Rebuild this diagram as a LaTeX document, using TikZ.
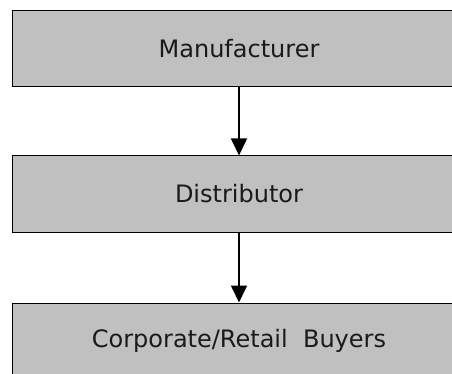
\documentclass[tikz,border=0pt]{standalone}
\usepackage{fontspec}
\setmainfont{DejaVu Sans}
\usepackage{xcolor}
\usetikzlibrary{arrows.meta}
\definecolor{chain-grey}{RGB}{192,192,192}
\definecolor{chain-text}{RGB}{26,26,26}

\begin{document}
\begin{tikzpicture}[x=1pt, y=-1pt,
  stage/.style={draw=black, line width=1pt, fill=chain-grey, text=chain-text,
    minimum width=454pt, minimum height=76pt, inner sep=0pt, font=\fontsize{24}{28}\selectfont},
  flow/.style={line width=1.6pt, -{Triangle[width=16pt, length=17pt]}}]
  \clip (0,0) rectangle (452,374);
  \useasboundingbox (0,0) rectangle (452,374);

  % supply chain stages
  \node[stage] (maker) at (239,48.5) {Manufacturer};
  \node[stage] (dist) at (239,194) {Distributor};
  \node[stage] (buyers) at (239,341) {Corporate/Retail\ \ Buyers};

  % goods flow downwards
  \draw[flow] (maker.south) -- (dist.north);
  \draw[flow] (dist.south) -- (buyers.north);
\end{tikzpicture}
\end{document}
